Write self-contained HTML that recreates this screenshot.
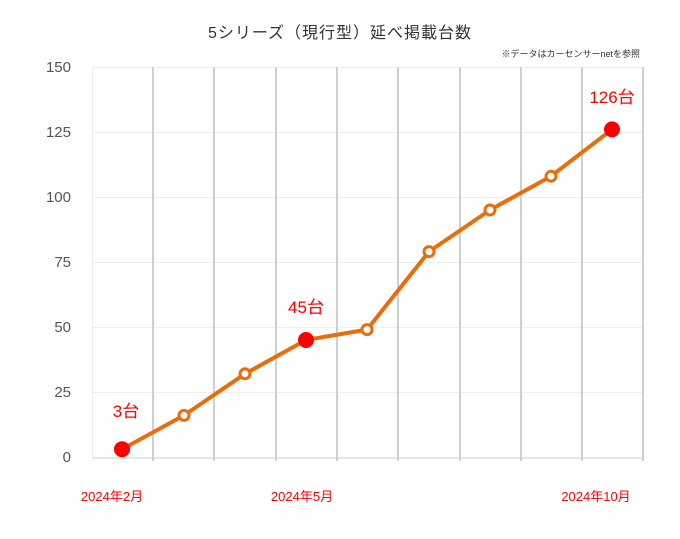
<!DOCTYPE html>
<html><head><meta charset="utf-8"><style>
body{margin:0;background:#fff;}
svg text{font-family:"Liberation Sans","Noto Sans CJK JP",sans-serif;}
</style></head><body>
<svg width="680" height="534" viewBox="0 0 680 534" xmlns="http://www.w3.org/2000/svg">
<rect width="680" height="534" fill="#fff"/>
<text x="340" y="38" text-anchor="middle" font-size="16" fill="#333" letter-spacing="1">5シリーズ（現行型）延べ掲載台数</text>
<text x="640" y="57" text-anchor="end" font-size="9" fill="#333">※データはカーセンサーnetを参照</text>
<g stroke="#eeeeee" stroke-width="1">
<line x1="92" y1="67.5" x2="643" y2="67.5"/>
<line x1="92" y1="132.5" x2="643" y2="132.5"/>
<line x1="92" y1="197.5" x2="643" y2="197.5"/>
<line x1="92" y1="262.5" x2="643" y2="262.5"/>
<line x1="92" y1="327.5" x2="643" y2="327.5"/>
<line x1="92" y1="392.5" x2="643" y2="392.5"/>
<line x1="92.5" y1="67" x2="92.5" y2="458"/>
</g>
<line x1="92" y1="458" x2="643" y2="458" stroke="#e6e6e6" stroke-width="2"/>
<g stroke="#cfcfcf" stroke-width="2">
<line x1="153" y1="67" x2="153" y2="461"/>
<line x1="214" y1="67" x2="214" y2="461"/>
<line x1="276" y1="67" x2="276" y2="461"/>
<line x1="337" y1="67" x2="337" y2="461"/>
<line x1="398" y1="67" x2="398" y2="461"/>
<line x1="460" y1="67" x2="460" y2="461"/>
<line x1="521" y1="67" x2="521" y2="461"/>
<line x1="582" y1="67" x2="582" y2="461"/>
<line x1="643" y1="67" x2="643" y2="461"/>
</g>
<g font-size="15" fill="#555" text-anchor="end">
<text x="71" y="72">150</text>
<text x="71" y="137">125</text>
<text x="71" y="202">100</text>
<text x="71" y="267">75</text>
<text x="71" y="332">50</text>
<text x="71" y="397">25</text>
<text x="71" y="462">0</text>
</g>
<polyline fill="none" stroke="#ea6d0c" stroke-width="4" stroke-linejoin="round" points="122,449.2 184,415.4 245,373.8 306,340 367,329.6 429,251.6 490,210 551,176.2 612,129.4"/>
<g fill="#fff" stroke="#ea6d0c" stroke-width="3">
<circle cx="184" cy="415.4" r="5"/>
<circle cx="245" cy="373.8" r="5"/>
<circle cx="367" cy="329.6" r="5"/>
<circle cx="429" cy="251.6" r="5"/>
<circle cx="490" cy="210" r="5"/>
<circle cx="551" cy="176.2" r="5"/>
</g>
<g fill="#ff0000">
<circle cx="122" cy="449.2" r="8"/>
<circle cx="306" cy="340" r="8"/>
<circle cx="612" cy="129.4" r="8"/>
</g>
<g fill="#ff0000" font-size="17" text-anchor="middle">
<text x="126" y="417">3台</text>
<text x="306" y="313">45台</text>
<text x="612" y="103">126台</text>
</g>
<g fill="#ff0000" font-size="13" text-anchor="middle">
<text x="112" y="501">2024年2月</text>
<text x="302" y="501">2024年5月</text>
<text x="596" y="501">2024年10月</text>
</g>
</svg>
</body></html>
